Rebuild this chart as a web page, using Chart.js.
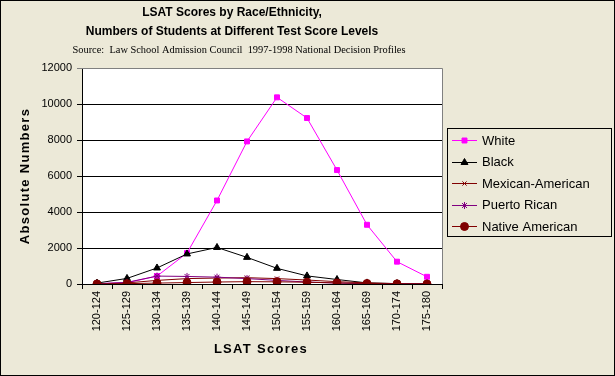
<!DOCTYPE html>
<html>
<head>
<meta charset="utf-8">
<script src="https://cdn.jsdelivr.net/npm/chart.js@4/dist/chart.umd.min.js"></script>
<style>
  html, body { margin: 0; padding: 0; background: #ECE9D8; }
  #wrap { width: 615px; height: 376px; }
</style>
</head>
<body>
<div id="wrap"><canvas id="lsatChart" width="615" height="376"></canvas></div>
<script>
// LSAT score bands
const scoreBands = ['120-124', '125-129', '130-134', '135-139', '140-144', '145-149',
                    '150-154', '155-159', '160-164', '165-169', '170-174', '175-180'];

// counts per band
const white       = [20, 70, 440, 1720, 4640, 7920, 10370, 9220, 6330, 3290, 1240, 400];
const black       = [50, 310, 890, 1670, 2030, 1480, 870, 450, 250, 60, 20, 10];
const mexicanAm   = [10, 60, 200, 300, 330, 350, 300, 220, 130, 60, 20, 5];
const puertoRican = [10, 90, 440, 420, 380, 300, 200, 110, 50, 15, 5, 2];
const nativeAm    = [5, 20, 50, 80, 110, 130, 120, 100, 60, 30, 10, 3];

const yTicks = [0, 2000, 4000, 6000, 8000, 10000, 12000];

const bg = '#ECE9D8';
const font = 'Liberation Sans, Arial, sans-serif';

const series = [
    { label: 'White', data: white, color: '#FF00FF', style: 'rect', radius: 3.5 },
    { label: 'Black', data: black, color: '#000000', style: 'triangle', radius: 4 },
    { label: 'Mexican-American', data: mexicanAm, color: '#800000', style: 'crossRot', radius: 3 },
    { label: 'Puerto Rican', data: puertoRican, color: '#800080', style: 'star', radius: 3.5 },
    { label: 'Native American', data: nativeAm, color: '#800000', style: 'circle', radius: 4 }
];

// background, frame, titles and the boxed legend
const decor = {
    id: 'decor',
    beforeDraw(chart) {
        const ctx = chart.ctx, a = chart.chartArea;
        ctx.save();
        ctx.fillStyle = bg;
        ctx.fillRect(0, 0, chart.width, chart.height);
        ctx.fillStyle = '#ffffff';
        ctx.fillRect(a.left, a.top, a.right - a.left, a.bottom - a.top);
        ctx.restore();
    },
    afterDraw(chart) {
        const ctx = chart.ctx, a = chart.chartArea;
        ctx.save();
        // plot area border top/right
        ctx.strokeStyle = '#808080';
        ctx.lineWidth = 1;
        ctx.beginPath();
        ctx.moveTo(a.left, a.top + 0.5);
        ctx.lineTo(a.right + 0.5, a.top + 0.5);
        ctx.lineTo(a.right + 0.5, a.bottom);
        ctx.stroke();

        // outer frame
        ctx.strokeStyle = '#000000';
        ctx.strokeRect(0.5, 0.5, chart.width - 1, chart.height - 1);

        // titles
        ctx.fillStyle = '#000000';
        ctx.textAlign = 'center';
        ctx.textBaseline = 'middle';
        ctx.font = 'bold 12px ' + font;
        ctx.fillText('LSAT Scores by Race/Ethnicity,', 232, 13);
        ctx.fillText('Numbers of Students at Different Test Score Levels', 232, 32);
        ctx.font = '10.4px Liberation Serif, Times New Roman, serif';
        ctx.fillText('Source:  Law School Admission Council  1997-1998 National Decision Profiles', 239, 50);

        // axis titles, Excel spreads the letters a bit
        ctx.font = 'bold 13px ' + font;
        ctx.letterSpacing = '1.3px';
        ctx.fillText('LSAT Scores', 261, 349);
        ctx.save();
        ctx.translate(25, 176);
        ctx.rotate(-Math.PI / 2);
        ctx.fillText('Absolute Numbers', 0, 0);
        ctx.restore();
        ctx.letterSpacing = '0px';

        // legend
        ctx.strokeStyle = '#000000';
        ctx.strokeRect(447.5, 128.5, 164, 108);
        ctx.textAlign = 'left';
        ctx.font = '13px ' + font;
        series.forEach((s, i) => {
            const y = 140 + i * 21.5;
            ctx.strokeStyle = s.color;
            ctx.lineWidth = 1;
            ctx.beginPath();
            ctx.moveTo(452, Math.round(y) + 0.5);
            ctx.lineTo(477, Math.round(y) + 0.5);
            ctx.stroke();
            ctx.fillStyle = s.color;
            ctx.strokeStyle = s.color;
            Chart.helpers.drawPoint(ctx, {
                pointStyle: s.style, radius: s.radius, rotation: 0, borderWidth: 1
            }, 464.5, Math.round(y) + 0.5);
            ctx.fillStyle = '#000000';
            ctx.fillText(s.label, 482, y + 1);
        });
        ctx.restore();
    }
};

new Chart(document.getElementById('lsatChart').getContext('2d'), {
    type: 'line',
    data: {
        labels: scoreBands,
        datasets: series.map((s, i) => ({
            label: s.label,
            data: s.data,
            borderColor: s.color,
            backgroundColor: s.color,
            borderWidth: 1,
            pointStyle: s.style,
            pointRadius: s.radius,
            pointBorderWidth: 1,
            tension: 0,
            fill: false,
            order: series.length - i
        }))
    },
    options: {
        responsive: false,
        animation: false,
        layout: { padding: { left: 0, top: 68, right: 173, bottom: 0 } },
        plugins: {
            legend: { display: false },
            tooltip: { enabled: false }
        },
        scales: {
            x: {
                offset: true,
                afterFit: s => { s.height = 92; },
                grid: {
                    offset: true,
                    drawOnChartArea: false,
                    drawTicks: true,
                    tickLength: 5,
                    color: '#000000'
                },
                border: { display: true, color: '#000000' },
                ticks: {
                    minRotation: 90,
                    maxRotation: 90,
                    padding: 2,
                    color: '#000000',
                    font: { family: font, size: 11 }
                }
            },
            y: {
                min: 0,
                max: 12000,
                afterFit: s => { s.width = 82; },
                afterBuildTicks: s => { s.ticks = yTicks.map(v => ({ value: v })); },
                grid: {
                    color: ctx => ctx.tick && ctx.tick.value === 12000 ? '#808080' : '#000000',
                    tickLength: 5
                },
                border: { display: true, color: '#000000' },
                ticks: {
                    padding: 5,
                    color: '#000000',
                    font: { family: font, size: 11 },
                    callback: v => String(v)
                }
            }
        }
    },
    plugins: [decor]
});
</script>
</body>
</html>
